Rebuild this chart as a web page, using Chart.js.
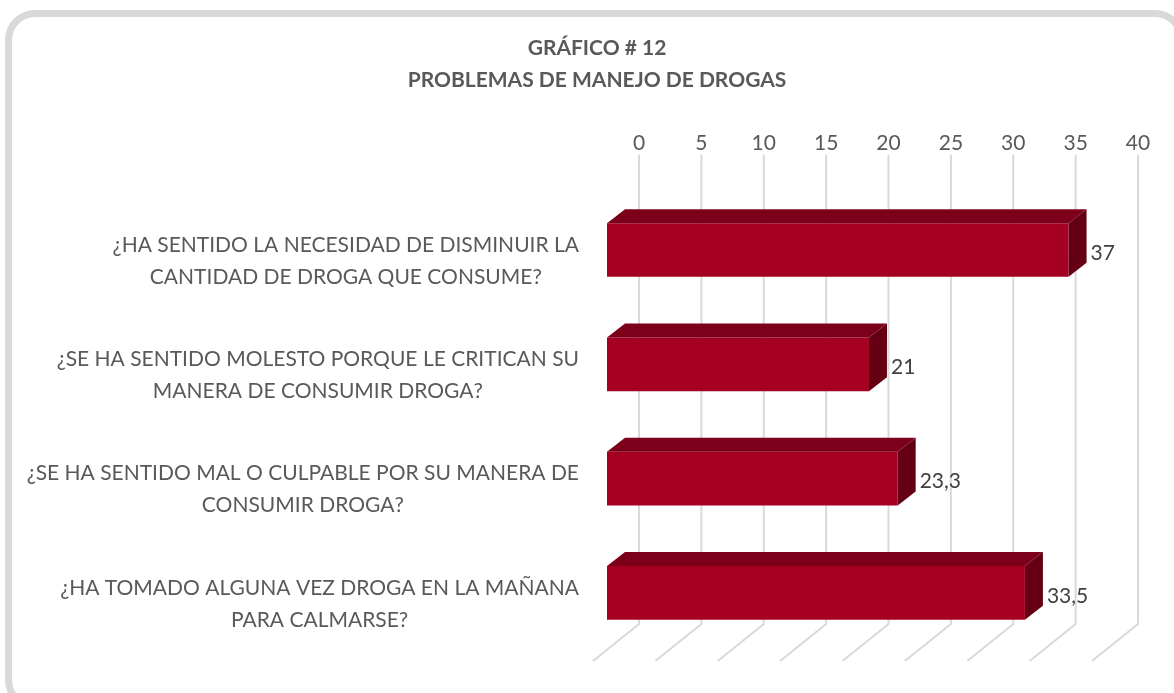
<!DOCTYPE html>
<html>
<head>
<meta charset="utf-8">
<script src="https://cdn.jsdelivr.net/npm/chart.js@4/dist/chart.umd.min.js"></script>
<style>
  body { margin: 0; background: #fff; }
  #frame {
    position: absolute; left: 5px; top: 10px;
    width: 1180px; height: 700px;
    border: 7px solid #d9d9d9; border-radius: 30px;
    box-sizing: border-box;
  }
  #wrap { position: absolute; left: 0; top: 0; width: 1174px; height: 693px; }
</style>
</head>
<body>
<div id="frame"></div>
<div id="wrap"><canvas id="myBarChart" width="1174" height="693"></canvas></div>
<script>
const categories = [
    ['¿HA SENTIDO LA NECESIDAD DE DISMINUIR LA', 'CANTIDAD DE DROGA QUE CONSUME?'],
    ['¿SE HA SENTIDO MOLESTO PORQUE LE CRITICAN SU', 'MANERA DE CONSUMIR DROGA?'],
    ['¿SE HA SENTIDO MAL O CULPABLE POR SU MANERA DE', 'CONSUMIR DROGA?'],
    ['¿HA TOMADO ALGUNA VEZ DROGA EN LA MAÑANA', 'PARA CALMARSE?']
];
const values = [37, 21, 23.3, 33.5];
const tickValues = [0, 5, 10, 15, 20, 25, 30, 35, 40];
const titleLines = ['GRÁFICO # 12', 'PROBLEMAS DE MANEJO DE DROGAS'];

const FONT = 'Lato, "Open Sans", sans-serif';

// depth of the fake 3d look (front plane -> back wall / floor / bar)
const wallDX = 32, wallDY = 26;
const floorDX = 46, floorDY = 37;
const barDX = 18, barDY = 14;

/*------------------3d look: walls, bar faces, labels------------------------*/
const fake3d = {
    id: 'fake3d',
    beforeDatasetsDraw(chart) {
        const { ctx, chartArea: a, scales: { x } } = chart;
        const bottom = a.bottom - wallDY;
        const top = a.top - wallDY - 12;
        ctx.save();
        ctx.strokeStyle = '#d9d9d9';
        ctx.lineWidth = 2;
        tickValues.forEach(v => {
            const px = x.getPixelForValue(v) + wallDX;
            ctx.beginPath();
            ctx.moveTo(px, top);
            ctx.lineTo(px, bottom);
            ctx.lineTo(px - floorDX, bottom + floorDY);
            ctx.stroke();
        });
        ctx.restore();
    },
    afterDatasetsDraw(chart) {
        const { ctx, chartArea: a } = chart;
        const meta = chart.getDatasetMeta(0);
        ctx.save();
        meta.data.forEach((bar, i) => {
            const { x, y, base, height } = bar.getProps(['x', 'y', 'base', 'height'], true);
            const t = y - height / 2, b = y + height / 2;

            // top face
            ctx.fillStyle = '#7c0019';
            ctx.beginPath();
            ctx.moveTo(base, t);
            ctx.lineTo(base + barDX, t - barDY);
            ctx.lineTo(x + barDX, t - barDY);
            ctx.lineTo(x, t);
            ctx.closePath();
            ctx.fill();

            // side face
            ctx.fillStyle = '#650014';
            ctx.beginPath();
            ctx.moveTo(x, t);
            ctx.lineTo(x + barDX, t - barDY);
            ctx.lineTo(x + barDX, b - barDY);
            ctx.lineTo(x, b);
            ctx.closePath();
            ctx.fill();

            // value label
            ctx.fillStyle = '#404040';
            ctx.font = '21px ' + FONT;
            ctx.textAlign = 'left';
            ctx.textBaseline = 'middle';
            ctx.fillText(String(values[i]).replace('.', ','), x + barDX + 4, y + 3);

            // category label, centred lines in a right aligned block
            ctx.fillStyle = '#595959';
            const lines = categories[i];
            const maxW = Math.max(...lines.map(l => ctx.measureText(l).width));
            const cx = a.left - 28 - maxW / 2;
            const cy = y + (floorDY - wallDY);
            ctx.textAlign = 'center';
            lines.forEach((l, k) => {
                ctx.fillText(l, cx, cy + (k - (lines.length - 1) / 2) * 32);
            });
        });
        ctx.restore();
    }
};

const ctx = document.getElementById('myBarChart').getContext('2d');
new Chart(ctx, {
    type: 'bar',
    data: {
        labels: categories,
        datasets: [{
            label: 'Problemas',
            data: values,
            backgroundColor: '#a50021',
            borderWidth: 0,
            barPercentage: 0.47,
            categoryPercentage: 1
        }]
    },
    options: {
        indexAxis: 'y',
        responsive: false,
        animation: false,
        layout: {
            padding: { top: 12, left: 88, right: 68, bottom: 43 }
        },
        plugins: {
            legend: { display: false },
            tooltip: { enabled: false },
            title: {
                display: true,
                text: titleLines,
                color: '#595959',
                font: { family: FONT, size: 21, weight: 'bold', lineHeight: 1.52 },
                padding: { top: 20, bottom: 35 }
            }
        },
        scales: {
            x: {
                position: 'top',
                min: 0,
                max: 40,
                afterBuildTicks: s => { s.ticks = tickValues.map(v => ({ value: v })); },
                afterFit: s => { s.height = 62; },
                ticks: {
                    labelOffset: wallDX,
                    padding: 37,
                    color: '#595959',
                    font: { family: FONT, size: 21 }
                },
                grid: { display: false, drawTicks: false },
                border: { display: false }
            },
            y: {
                afterFit: s => { s.width = 519; },
                ticks: { display: false },
                grid: { display: false },
                border: { display: false }
            }
        }
    },
    plugins: [fake3d]
});
</script>
</body>
</html>
